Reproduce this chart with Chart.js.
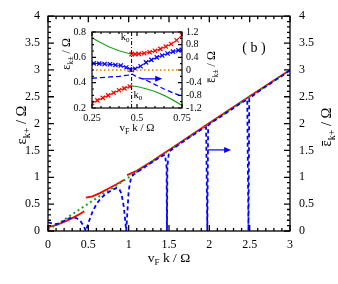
<!DOCTYPE html>
<html>
<head>
<meta charset="utf-8">
<script src="https://cdn.jsdelivr.net/npm/chart.js@4.4.1/dist/chart.umd.min.js"></script>
<style>
  body { margin: 0; background: #fff; }
  #wrap { position: relative; width: 338px; height: 284px; }
  #wrap canvas { position: absolute; }
</style>
</head>
<body>
<div id="wrap">
  <canvas id="main" width="338" height="284" style="left:0;top:0"></canvas>
  <canvas id="inset" width="180" height="125" style="left:50px;top:20px"></canvas>
</div>
<script>
// ---- tick labels ----
const mainKTicks = [0, 0.5, 1, 1.5, 2, 2.5, 3];
const mainETicks = [0, 0.5, 1, 1.5, 2, 2.5, 3, 3.5, 4];
const insetKTicks = [0.25, 0.5, 0.75];
const insetETicks = [0.2, 0.4, 0.6, 0.8];
const insetEbarTicks = [-1.2, -0.8, -0.4, 0, 0.4, 0.8, 1.2];

// ---- main panel ----
// red: eps_{k+}, three branches
const redK1 = [0, 0.1, 0.2, 0.3, 0.4, 0.45];
const redE1 = [0.07, 0.11, 0.17, 0.24, 0.32, 0.37];
const redK2 = [0.47, 0.55, 0.65, 0.75, 0.85, 0.94];
const redE2 = [0.62, 0.645, 0.71, 0.79, 0.87, 0.95];
const redK3 = [0.98, 1.1, 1.2, 1.3, 1.4, 1.5, 2, 2.5, 3];
const redE3 = [1.04, 1.12, 1.215, 1.31, 1.41, 1.51, 2.01, 2.51, 3.0];
// green dotted
const greenK = [0, 0.1, 0.2, 0.3, 0.4, 0.5, 0.6, 0.7, 0.8, 0.9, 1.0, 1.5, 2, 2.5, 3];
const greenE = [0.03, 0.11, 0.21, 0.31, 0.41, 0.51, 0.61, 0.71, 0.8, 0.9, 1.0, 1.5, 2.0, 2.5, 3.0];
// blue dashed: eps-bar_{k+}
const blueK = [0, 0.05, 0.1, 0.15, 0.2, 0.25, 0.3, 0.35, 0.4, 0.44, 0.47, 0.5, 0.55, 0.6, 0.65, 0.7, 0.75, 0.8, 0.85, 0.88, 0.91, 0.94, 0.97,
  1.0, 1.03, 1.06, 1.1, 1.2, 1.3, 1.4, 1.45, 1.47, 1.475, 1.48, 1.5, 1.7, 1.9, 1.96, 1.975, 1.985, 2.0, 2.2, 2.4, 2.47, 2.485, 2.495, 2.6, 2.8, 3.0];
const blueE = [0.16, 0.14, 0.13, 0.15, 0.19, 0.23, 0.25, 0.24, 0.19, 0.1, 0, 0.15, 0.35, 0.5, 0.6, 0.67, 0.72, 0.77, 0.8, 0.79, 0.7, 0.45, 0,
  0.75, 1.0, 1.05, 1.09, 1.19, 1.29, 1.39, 1.42, 1.2, 0, 1.2, 1.48, 1.69, 1.89, 1.93, 0, 1.95, 1.99, 2.19, 2.39, 2.45, 0, 2.47, 2.59, 2.79, 2.99];
const mainArrow = { k0: 1.98, k1: 2.27, e: 1.51 };

// ---- inset ----
const k0 = 0.47;
const gUpK = [0.25, 0.3, 0.35, 0.4, 0.45, 0.47];
const gUpE = [0.755, 0.715, 0.68, 0.652, 0.632, 0.625];
const gLoK = [0.47, 0.5, 0.55, 0.6, 0.65, 0.7, 0.75];
const gLoE = [0.375, 0.37, 0.352, 0.33, 0.3, 0.262, 0.22];
const rLoK = [0.25, 0.28, 0.31, 0.34, 0.37, 0.4, 0.43, 0.46];
const rLoE = [0.24, 0.26, 0.28, 0.3, 0.32, 0.34, 0.355, 0.37];
const rUpK = [0.47, 0.49, 0.51, 0.54, 0.57, 0.6, 0.63, 0.66, 0.69, 0.72, 0.75];
const rUpE = [0.625, 0.625, 0.627, 0.632, 0.64, 0.652, 0.667, 0.685, 0.705, 0.735, 0.775];
// blue on the right axis (eps-bar)
const bxK = [0.26, 0.29, 0.32, 0.35, 0.38, 0.41, 0.44, 0.46, 0.47, 0.49, 0.52, 0.55, 0.58, 0.61, 0.64, 0.67, 0.7, 0.73, 0.75];
const bxE = [0.21, 0.2, 0.19, 0.18, 0.16, 0.14, 0.08, 0.02, 0, 0.04, 0.12, 0.24, 0.32, 0.4, 0.46, 0.52, 0.58, 0.62, 0.64];
const bdLK = [0.25, 0.3, 0.35, 0.4, 0.45, 0.47];
const bdLE = [-0.26, -0.24, -0.22, -0.2, -0.16, -0.12];
const bdRK = [0.47, 0.5, 0.55, 0.6, 0.65, 0.7, 0.75];
const bdRE = [-0.12, -0.22, -0.32, -0.46, -0.6, -0.72, -0.84];
const orangeK = [0.25, 0.75];
const orangeE = [0.5, 0.5];
const insetArrow = { k0: 0.53, k1: 0.64, e: 0.43 };

const FONT = 'Liberation Serif';
const RED = '#ff0000', GREEN = '#20a020', BLUE = '#0000ff', ORANGE = '#e8a030';

const pts = (ks, es) => ks.map((k, i) => ({ x: k, y: es[i] }));
const withGaps = (...segs) => segs.flatMap((s, i) => i ? [{ x: s[0].x, y: null }, ...s] : s);

function steps(min, max, step) {
  const v = [];
  for (let t = min; t <= max + 1e-9; t += step) v.push(+t.toFixed(4));
  return v;
}
const isMajor = (v, m) => Math.abs(v / m - Math.round(v / m)) < 1e-6;

// rich text: parts [{t, sub, bar}], y = baseline, centred on x
function rich(ctx, parts, x, y, size, rot, align) {
  ctx.save();
  ctx.translate(x, y);
  ctx.rotate(rot || 0);
  const big = size + 'px "' + FONT + '"';
  const small = Math.round(size * 0.7) + 'px "' + FONT + '"';
  let w = 0;
  parts.forEach(p => { ctx.font = p.sub ? small : big; p.w = ctx.measureText(p.t).width; w += p.w; });
  let cx = align === 'left' ? 0 : align === 'right' ? -w : -w / 2;
  ctx.textAlign = 'left';
  ctx.textBaseline = 'alphabetic';
  ctx.fillStyle = '#000';
  parts.forEach(p => {
    ctx.font = p.sub ? small : big;
    ctx.fillText(p.t, cx, p.sub ? size * 0.25 : 0);
    if (p.bar) ctx.fillRect(cx + p.w * 0.1, -size * 0.62, p.w * 0.8, Math.max(1, size * 0.06));
    cx += p.w;
  });
  ctx.restore();
}

function arrow(ctx, x0, x1, y, color) {
  ctx.save();
  ctx.strokeStyle = color; ctx.fillStyle = color; ctx.lineWidth = 1.2;
  ctx.beginPath(); ctx.moveTo(x0, y); ctx.lineTo(x1 - 5, y); ctx.stroke();
  ctx.beginPath(); ctx.moveTo(x1, y); ctx.lineTo(x1 - 7, y - 3); ctx.lineTo(x1 - 7, y + 3); ctx.closePath(); ctx.fill();
  ctx.restore();
}

// frame with inward ticks on all four sides
const frame = {
  id: 'frame',
  afterDatasetsDraw(chart, args, o) {
    const { ctx, chartArea: a, scales } = chart;
    ctx.save();
    ctx.strokeStyle = '#000';
    ctx.lineWidth = o.lw;
    ctx.beginPath();
    const sx = scales.x;
    steps(sx.min, sx.max, o.xMinor).forEach(v => {
      const p = sx.getPixelForValue(v), l = isMajor(v, o.xMajor) ? o.big : o.small;
      ctx.moveTo(p, a.bottom); ctx.lineTo(p, a.bottom - l);
      ctx.moveTo(p, a.top); ctx.lineTo(p, a.top + l);
    });
    const sy = scales.y;
    steps(sy.min, sy.max, o.yMinor).forEach(v => {
      const p = sy.getPixelForValue(v), l = isMajor(v, o.yMajor) ? o.big : o.small;
      ctx.moveTo(a.left, p); ctx.lineTo(a.left + l, p);
    });
    const s2 = scales.y2;
    steps(s2.min, s2.max, o.y2Minor).forEach(v => {
      const p = s2.getPixelForValue(v), l = isMajor(v, o.y2Major) ? o.big : o.small;
      ctx.moveTo(a.right, p); ctx.lineTo(a.right - l, p);
    });
    ctx.stroke();
    ctx.strokeRect(a.left, a.top, a.right - a.left, a.bottom - a.top);
    ctx.restore();
  }
};

function axis(min, max, ticks, position, size, pad, fit) {
  return {
    type: 'linear', position, min, max,
    afterBuildTicks: s => { s.ticks = ticks.map(v => ({ value: v })); },
    afterFit: s => { if (position === 'bottom') s.height = fit; else s.width = fit; },
    ticks: { autoSkip: false, maxRotation: 0, padding: pad, color: '#000',
             font: { family: FONT, size }, callback: v => String(v) },
    grid: { display: false, drawTicks: false },
    border: { display: false }
  };
}

const mainLabels = {
  id: 'mainLabels',
  afterDraw(chart) {
    const { ctx, scales } = chart;
    rich(ctx, [{ t: 'v' }, { t: 'F', sub: true }, { t: ' k / Ω' }], 169, 262, 13.5);
    rich(ctx, [{ t: 'ε' }, { t: 'k+', sub: true }, { t: ' / Ω' }], 26, 125, 14.5, -Math.PI / 2);
    rich(ctx, [{ t: 'ε', bar: true }, { t: 'k+', sub: true }, { t: ' / Ω' }], 331, 127, 14.5, -Math.PI / 2);
    rich(ctx, [{ t: '( b )' }], 254, 52, 14);
    const sx = scales.x, sy = scales.y;
    arrow(ctx, sx.getPixelForValue(mainArrow.k0), sx.getPixelForValue(mainArrow.k1), sy.getPixelForValue(mainArrow.e), BLUE);
  }
};

new Chart(document.getElementById('main'), {
  type: 'scatter',
  data: {
    datasets: [
      { data: pts(blueK, blueE), showLine: true, borderColor: BLUE, borderWidth: 1.8, borderDash: [4, 3], pointRadius: 0 },
      { data: pts(greenK, greenE), showLine: true, borderColor: GREEN, borderWidth: 2, borderDash: [2, 3], pointRadius: 0 },
      { data: withGaps(pts(redK1, redE1), pts(redK2, redE2), pts(redK3, redE3)), showLine: true, spanGaps: false,
        borderColor: RED, borderWidth: 1.8, pointRadius: 0 }
    ]
  },
  options: {
    responsive: false, animation: false,
    layout: { padding: { top: 13, left: 0, right: 0, bottom: 0 } },
    plugins: {
      legend: { display: false }, tooltip: { enabled: false },
      frame: { lw: 1.3, big: 6, small: 3, xMajor: 0.5, xMinor: 0.1, yMajor: 0.5, yMinor: 0.1, y2Major: 0.5, y2Minor: 0.1 }
    },
    scales: {
      x: axis(0, 3, mainKTicks, 'bottom', 12, 7, 53),
      y: axis(0, 4, mainETicks, 'left', 12, 8, 48),
      y2: axis(0, 4, mainETicks, 'right', 12, 9, 48)
    }
  },
  plugins: [frame, mainLabels]
});

const insetLabels = {
  id: 'insetLabels',
  afterDraw(chart) {
    const { ctx, scales } = chart;
    rich(ctx, [{ t: 'v' }, { t: 'F', sub: true }, { t: ' k / Ω' }], 87, 111, 11);
    rich(ctx, [{ t: 'ε' }, { t: 'k±', sub: true }, { t: ' / Ω' }], 20, 34, 12, -Math.PI / 2);
    rich(ctx, [{ t: 'ε', bar: true }, { t: 'k±', sub: true }, { t: ' / Ω' }], 165, 47, 12, -Math.PI / 2);
    const sx = scales.x, sy = scales.y;
    const px = sx.getPixelForValue(k0);
    rich(ctx, [{ t: 'k' }, { t: '0', sub: true }], px - 2, sy.getPixelForValue(0.74), 10.5, 0, 'right');
    rich(ctx, [{ t: 'k' }, { t: '0', sub: true }], px + 2, sy.getPixelForValue(0.28), 10.5, 0, 'left');
    arrow(ctx, sx.getPixelForValue(insetArrow.k0), sx.getPixelForValue(insetArrow.k1), sy.getPixelForValue(insetArrow.e), BLUE);
  }
};

const cross = (color) => ({ pointStyle: 'crossRot', pointRadius: 3, pointBorderWidth: 1.2, pointBorderColor: color });

new Chart(document.getElementById('inset'), {
  type: 'scatter',
  data: {
    datasets: [
      { data: pts(orangeK, orangeE), showLine: true, borderColor: ORANGE, borderWidth: 1.8, borderDash: [1.5, 2.5], pointRadius: 0 },
      { data: [{ x: k0, y: 0.2 }, { x: k0, y: 0.8 }], showLine: true, borderColor: '#000', borderWidth: 1, borderDash: [4, 2, 1, 2], pointRadius: 0 },
      { data: withGaps(pts(gUpK, gUpE), pts(gLoK, gLoE)), showLine: true, borderColor: GREEN, borderWidth: 1.2, pointRadius: 0 },
      { data: withGaps(pts(bdLK, bdLE), pts(bdRK, bdRE)), yAxisID: 'y2', showLine: true, borderColor: BLUE, borderWidth: 1.3, borderDash: [5, 3], pointRadius: 0 },
      { data: pts(bxK, bxE), yAxisID: 'y2', showLine: true, borderColor: BLUE, borderWidth: 1, ...cross(BLUE) },
      { data: pts(rLoK, rLoE), showLine: true, borderColor: RED, borderWidth: 1, ...cross(RED) },
      { data: pts(rUpK, rUpE), showLine: true, borderColor: RED, borderWidth: 1, ...cross(RED) }
    ]
  },
  options: {
    responsive: false, animation: false,
    layout: { padding: { top: 9, left: 0, right: 0, bottom: 0 } },
    plugins: {
      legend: { display: false }, tooltip: { enabled: false },
      frame: { lw: 1.2, big: 4, small: 2, xMajor: 0.25, xMinor: 0.05, yMajor: 0.2, yMinor: 0.05, y2Major: 0.4, y2Minor: 0.2 }
    },
    scales: {
      x: axis(0.25, 0.75, insetKTicks, 'bottom', 10, 4, 37),
      y: axis(0.2, 0.8, insetETicks, 'left', 10, 6, 42),
      y2: axis(-1.2, 1.2, insetEbarTicks, 'right', 10, 4, 48)
    }
  },
  plugins: [frame, insetLabels]
});
</script>
</body>
</html>
